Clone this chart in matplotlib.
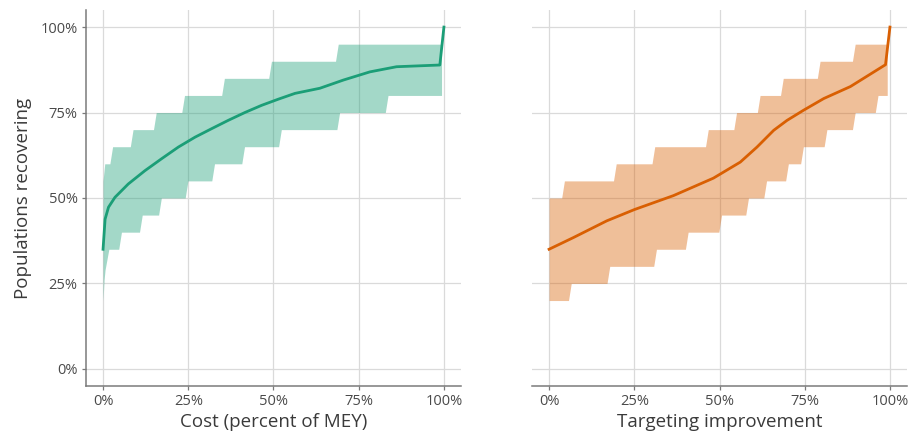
import numpy as np
import matplotlib
matplotlib.use("Agg")
import matplotlib.pyplot as plt
from matplotlib.ticker import PercentFormatter

plt.rcParams['font.family'] = ['Open Sans', 'DejaVu Sans']

GREEN = '#1b9e77'
ORANGE = '#d95f02'

# left panel: cost (percent of MEY)
cost_med_x = [0, 0.6, 1.6, 3.5, 7.4, 12.3, 17.2, 22.1, 27, 31.9, 36.7, 41.6, 46.5,
              51.4, 56.3, 63.6, 70.5, 78.3, 86.1, 98.8, 100]
cost_med_y = [35, 43.8, 47.3, 50.2, 54.1, 58, 61.5, 64.9, 67.8, 70.3, 72.7, 75, 77.1,
              78.9, 80.6, 82.1, 84.5, 86.9, 88.4, 88.9, 100]

cost_hi_head_x = [0, 0.5]
cost_hi_head_y = [55, 60]
cost_hi_breaks = [2.4, 8.4, 15.2, 23.5, 35.2, 49, 68.6]
cost_hi_vals = [60, 65, 70, 75, 80, 85, 90, 95]

cost_lo_head_x = [0, 0.3, 0.6, 1.7]
cost_lo_head_y = [20, 26, 29, 35]
cost_lo_breaks = [5, 11.1, 16.7, 24.5, 32.3, 41.1, 51.9, 69, 83.2]
cost_lo_vals = [35, 40, 45, 50, 55, 60, 65, 70, 75, 80]
cost_end = 99.3

# right panel: targeting improvement
targ_med_x = [0, 7.1, 16.9, 25, 36.5, 48.2, 56.1, 61, 65.9, 69.8, 74.7, 80.6, 88.4, 98.7, 100]
targ_med_y = [35, 38.4, 43.3, 46.6, 50.7, 55.8, 60.5, 64.9, 69.8, 72.7, 75.7, 79.1, 82.6, 89, 100]

targ_hi_breaks = [4.1, 19.3, 30.6, 46.3, 54.6, 61.5, 68.3, 79.1, 89.4]
targ_hi_vals = [50, 55, 60, 65, 70, 75, 80, 85, 90, 95]

targ_lo_breaks = [6.1, 17.4, 31.1, 40.4, 50.2, 58.1, 63.4, 69.8, 74.2, 81.1, 89.4, 96.1]
targ_lo_vals = [20, 25, 30, 35, 40, 45, 50, 55, 60, 65, 70, 75, 80]
targ_end = 99.2

RAMP = 0.8


def step_outline(start, breaks, vals, end):
    xs = [start]
    ys = [vals[0]]
    for b, v0, v1 in zip(breaks, vals[:-1], vals[1:]):
        xs += [b - RAMP / 2, b + RAMP / 2]
        ys += [v0, v1]
    xs.append(end)
    ys.append(vals[-1])
    return xs, ys


def draw_band(ax, lo, hi, color):
    lx, ly = lo
    hx, hy = hi
    x_all = np.union1d(lx, hx)
    ax.fill_between(x_all, np.interp(x_all, lx, ly), np.interp(x_all, hx, hy),
                    color=color, alpha=0.4, lw=0, zorder=2)


def style(ax, xlabel):
    ax.set_xlim(-5, 105)
    ax.set_ylim(-5, 105)
    ticks = [0, 25, 50, 75, 100]
    ax.set_xticks(ticks)
    ax.set_yticks(ticks)
    ax.xaxis.set_major_formatter(PercentFormatter(100, decimals=0))
    ax.yaxis.set_major_formatter(PercentFormatter(100, decimals=0))
    ax.grid(True, color='#dadada', lw=0.9, zorder=0)
    ax.set_axisbelow(True)
    for s in ['top', 'right']:
        ax.spines[s].set_visible(False)
    for s in ['left', 'bottom']:
        ax.spines[s].set_color('#7a7a7a')
        ax.spines[s].set_linewidth(1.1)
    ax.tick_params(length=3, width=0.9, color='#7a7a7a', labelsize=10.5,
                   labelcolor='#4a4a4a', pad=3)
    ax.set_xlabel(xlabel, fontsize=13.5, color='#3a3a3a', labelpad=3)


fig = plt.figure(figsize=(9.11, 4.36), dpi=100)
ax1 = fig.add_axes([0.0944, 0.1147, 0.4116, 0.8624])
ax2 = fig.add_axes([0.584, 0.1147, 0.4116, 0.8624])

# left
lo = step_outline(cost_lo_head_x[-1], cost_lo_breaks, cost_lo_vals, cost_end)
lo = (cost_lo_head_x[:-1] + lo[0], cost_lo_head_y[:-1] + lo[1])
hi = step_outline(cost_hi_head_x[-1], cost_hi_breaks, cost_hi_vals, cost_end)
hi = (cost_hi_head_x[:-1] + hi[0], cost_hi_head_y[:-1] + hi[1])
draw_band(ax1, lo, hi, GREEN)
ax1.plot(cost_med_x, cost_med_y, color=GREEN, lw=2, zorder=3)
style(ax1, 'Cost (percent of MEY)')
ax1.set_ylabel('Populations recovering', fontsize=13.5, color='#3a3a3a', labelpad=6)

# right
lo = step_outline(0, targ_lo_breaks, targ_lo_vals, targ_end)
hi = step_outline(0, targ_hi_breaks, targ_hi_vals, targ_end)
draw_band(ax2, lo, hi, ORANGE)
ax2.plot(targ_med_x, targ_med_y, color=ORANGE, lw=2, zorder=3)
style(ax2, 'Targeting improvement')
ax2.spines['left'].set_visible(False)
ax2.tick_params(axis='y', left=False, labelleft=False)

fig.savefig('out.png', dpi=100)
